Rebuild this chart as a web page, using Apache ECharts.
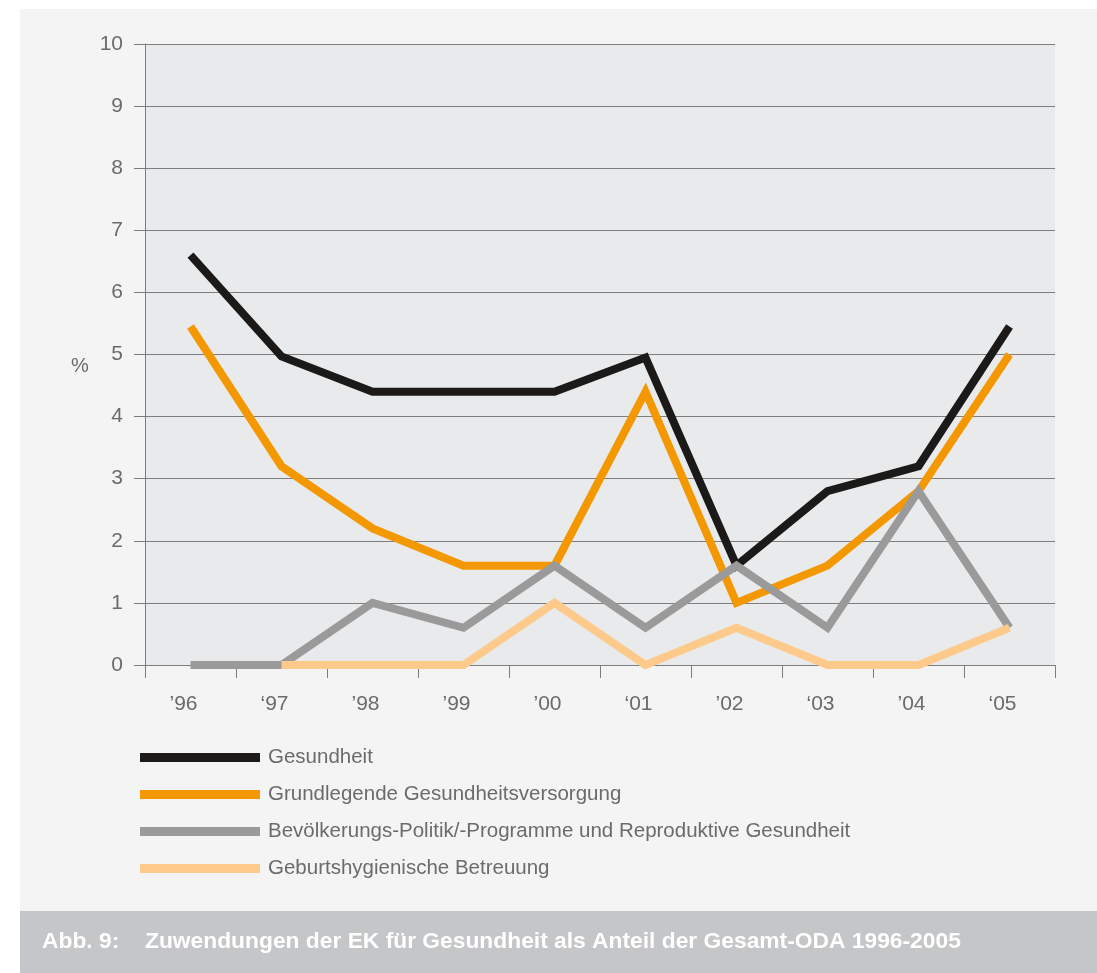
<!DOCTYPE html>
<html>
<head>
<meta charset="utf-8">
<title>Zuwendungen der EK für Gesundheit</title>
<script src="https://cdn.jsdelivr.net/npm/echarts@6/dist/echarts.min.js"></script>
<style>
  html, body { margin: 0; padding: 0; background: #ffffff; }
  #chart { width: 1097px; height: 973px; }
</style>
</head>
<body>
<div id="chart"></div>
<script>
// Jahre (Kategorien der x-Achse)
const years = ['\u201996', '\u201897', '\u201998', '\u201999', '\u201900', '\u201801', '\u201902', '\u201803', '\u201904', '\u201805'];

// Anteile an der Gesamt-ODA in %
const gesundheit = [6.6, 4.97, 4.4, 4.4, 4.4, 4.95, 1.6, 2.8, 3.2, 5.45];
const grundlegende = [5.45, 3.2, 2.2, 1.6, 1.6, 4.4, 1.0, 1.6, 2.8, 5.0];
const bevoelkerung = [0, 0, 1.0, 0.6, 1.6, 0.6, 1.6, 0.6, 2.8, 0.6];
const geburtshygiene = [null, 0, 0, 0, 1.0, 0, 0.6, 0, 0, 0.6];

const seriesNames = [
  'Gesundheit',
  'Grundlegende Gesundheitsversorgung',
  'Bevölkerungs-Politik/-Programme und Reproduktive Gesundheit',
  'Geburtshygienische Betreuung'
];

const colors = ['#1b1a18', '#f39800', '#9a9a9b', '#fdca8b'];
const FONT = '"Liberation Sans", Arial, Helvetica, sans-serif';
const TEXT_GREY = '#6b6b6b';
const RULE_GREY = '#7d7d7d';

const chart = echarts.init(document.getElementById('chart'), null, { renderer: 'canvas' });

function lineSeries(name, data, color, z) {
  return {
    name: name,
    type: 'line',
    data: data,
    z: z,
    symbol: 'none',
    showSymbol: false,
    connectNulls: false,
    animation: false,
    itemStyle: { color: color },
    lineStyle: { color: color, width: 8, cap: 'butt', join: 'miter' },
    emphasis: { disabled: true }
  };
}

chart.setOption({
  animation: false,
  textStyle: { fontFamily: FONT },
  graphic: [
    { type: 'rect', z: -10, silent: true, shape: { x: 20, y: 9, width: 1077, height: 902 }, style: { fill: '#f4f4f4' } },
    { type: 'rect', z: -10, silent: true, shape: { x: 20, y: 911, width: 1077, height: 62 }, style: { fill: '#c5c6c8' } },
    { type: 'text', z: 10, silent: true, left: 42, top: 930,
      style: { text: 'Abb. 9:', fill: '#ffffff', font: 'bold 22.8px ' + FONT } },
    { type: 'text', z: 10, silent: true, left: 145, top: 930,
      style: { text: 'Zuwendungen der EK für Gesundheit als Anteil der Gesamt-ODA 1996-2005', fill: '#ffffff', font: 'bold 22.8px ' + FONT } },
    { type: 'text', z: 10, silent: true, left: 71, top: 356,
      style: { text: '%', fill: TEXT_GREY, font: '20px ' + FONT } }
  ],
  grid: {
    left: 145, top: 44, width: 910, height: 621,
    show: true, backgroundColor: '#e9eaec', borderWidth: 0
  },
  legend: {
    orient: 'vertical',
    left: 140, top: 747,
    padding: 0,
    itemWidth: 120, itemHeight: 9,
    itemGap: 16,
    icon: 'rect',
    selectedMode: false,
    data: seriesNames,
    textStyle: { color: TEXT_GREY, fontSize: 20.5, fontFamily: FONT, padding: [0, 0, 0, 3] }
  },
  xAxis: {
    type: 'category',
    data: years,
    boundaryGap: true,
    axisLine: { show: true, lineStyle: { color: RULE_GREY, width: 1 } },
    axisTick: { show: true, length: 13, alignWithLabel: false, lineStyle: { color: RULE_GREY } },
    axisLabel: { color: TEXT_GREY, fontSize: 21, margin: 29, fontFamily: FONT, padding: [0, 14, 0, 0] },
    splitLine: { show: false }
  },
  yAxis: {
    type: 'value',
    min: 0, max: 10, interval: 1,
    axisLine: { show: true, lineStyle: { color: RULE_GREY, width: 1 } },
    axisTick: { show: true, length: 11, lineStyle: { color: RULE_GREY } },
    axisLabel: { color: TEXT_GREY, fontSize: 21, margin: 22, fontFamily: FONT },
    splitLine: { show: true, lineStyle: { color: RULE_GREY, width: 1 } }
  },
  series: [
    lineSeries(seriesNames[0], gesundheit, colors[0], 3),
    lineSeries(seriesNames[1], grundlegende, colors[1], 2),
    lineSeries(seriesNames[2], bevoelkerung, colors[2], 4),
    lineSeries(seriesNames[3], geburtshygiene, colors[3], 5)
  ]
});
</script>
</body>
</html>
